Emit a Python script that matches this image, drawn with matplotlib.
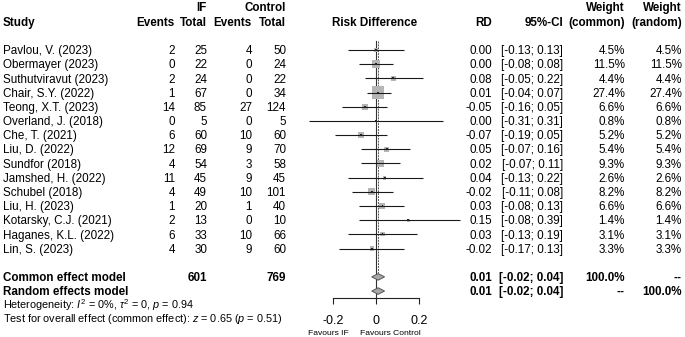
import numpy as np
import matplotlib
matplotlib.use("Agg")
import matplotlib.pyplot as plt
from matplotlib.patches import Polygon

plt.rcParams['font.family'] = ['Liberation Sans', 'DejaVu Sans']
plt.rcParams['mathtext.fontset'] = 'custom'
plt.rcParams['mathtext.rm'] = 'Liberation Sans'
plt.rcParams['mathtext.it'] = 'Liberation Sans:italic'
plt.rcParams['mathtext.bf'] = 'Liberation Sans:bold'

studies = ["Pavlou, V. (2023)", "Obermayer (2023)", "Suthutviravut (2023)", "Chair, S.Y. (2022)",
           "Teong, X.T. (2023)", "Overland, J. (2018)", "Che, T. (2021)", "Liu, D. (2022)",
           "Sundfor (2018)", "Jamshed, H. (2022)", "Schubel (2018)", "Liu, H. (2023)",
           "Kotarsky, C.J. (2021)", "Haganes, K.L. (2022)", "Lin, S. (2023)"]
ev_if = [2, 0, 2, 1, 14, 0, 6, 12, 4, 11, 4, 1, 2, 6, 4]
n_if = [25, 22, 24, 67, 85, 5, 60, 69, 54, 45, 49, 20, 13, 33, 30]
ev_ctrl = [4, 0, 0, 0, 27, 0, 10, 9, 3, 9, 10, 1, 0, 10, 9]
n_ctrl = [50, 24, 22, 34, 124, 5, 60, 70, 58, 45, 101, 40, 10, 66, 60]
rd = [0.00, 0.00, 0.08, 0.01, -0.05, 0.00, -0.07, 0.05, 0.02, 0.04, -0.02, 0.03, 0.15, 0.03, -0.02]
ci_lo = [-0.13, -0.08, -0.05, -0.04, -0.16, -0.31, -0.19, -0.07, -0.07, -0.13, -0.11, -0.08, -0.08, -0.13, -0.17]
ci_hi = [0.13, 0.08, 0.22, 0.07, 0.05, 0.31, 0.05, 0.16, 0.11, 0.22, 0.08, 0.13, 0.39, 0.19, 0.13]
w_common = [4.5, 11.5, 4.4, 27.4, 6.6, 0.8, 5.2, 5.4, 9.3, 2.6, 8.2, 6.6, 1.4, 3.1, 3.3]
w_random = [4.5, 11.5, 4.4, 27.4, 6.6, 0.8, 5.2, 5.4, 9.3, 2.6, 8.2, 6.6, 1.4, 3.1, 3.3]

summary_labels = ["Common effect model", "Random effects model"]
summary_rd = [0.01, 0.01]
summary_lo = [-0.02, -0.02]
summary_hi = [0.04, 0.04]
summary_wc = ["100.0%", "--"]
summary_wr = ["--", "100.0%"]
total_if = 601
total_ctrl = 769

xticks = [-0.2, 0, 0.2]
xticklabels = ["-0.2", "0", "0.2"]

W, H = 685, 337
fig = plt.figure(figsize=(W / 100, H / 100), dpi=100)

# layout (pixels)
y0, dy = 50.0, 14.18
x_zero, px_unit = 376.0, 215.0
FS = 8.4

tx = fig.add_axes([0, 0, 1, 1])
tx.set_xlim(0, W)
tx.set_ylim(H, 0)
tx.axis('off')


def row_y(i):
    return y0 + dy * i


def put(x, y, s, ha='right', bold=False, size=FS):
    tx.text(x, y + size * 0.716 * 100 / 72 / 2.0, s, ha=ha, va='baseline', fontsize=size,
            fontweight='bold' if bold else 'normal', color='black')


# headers
put(207, 7, "IF", bold=True)
put(286, 7, "Control", bold=True)
put(625, 7, "Weight", bold=True)
put(682, 7, "Weight", bold=True)
put(3, 22, "Study", ha='left', bold=True)
put(175, 22, "Events", bold=True)
put(207, 22, "Total", bold=True)
put(252, 22, "Events", bold=True)
put(286, 22, "Total", bold=True)
put(375, 22, "Risk Difference", ha='center', bold=True)
put(492, 22, "RD", bold=True)
put(563, 22, "95%-CI", bold=True)
put(625, 22, "(common)", bold=True)
put(682, 22, "(random)", bold=True)

for i, s in enumerate(studies):
    y = row_y(i)
    put(3, y, s, ha='left')
    put(175, y, str(ev_if[i]))
    put(207, y, str(n_if[i]))
    put(252, y, str(ev_ctrl[i]))
    put(286, y, str(n_ctrl[i]))
    put(492, y, f"{rd[i]:.2f}")
    put(563, y, f"[{ci_lo[i]:.2f}; {ci_hi[i]:.2f}]")
    put(625, y, f"{w_common[i]:.1f}%")
    put(682, y, f"{w_random[i]:.1f}%")

n = len(studies)
sum_rows = [n + 1, n + 2]
for k, r in enumerate(sum_rows):
    y = row_y(r)
    put(3, y, summary_labels[k], ha='left', bold=True)
    put(492, y, f"{summary_rd[k]:.2f}", bold=True)
    put(563, y, f"[{summary_lo[k]:.2f}; {summary_hi[k]:.2f}]", bold=True)
    put(625, y, summary_wc[k], bold=True)
    put(682, y, summary_wr[k], bold=True)
put(207, row_y(sum_rows[0]), str(total_if), bold=True)
put(286, row_y(sum_rows[0]), str(total_ctrl), bold=True)

SF = 7.85
put(3, 305, r"Heterogeneity: $I^2$ = 0%, $\tau^2$ = 0, $p$ = 0.94", ha='left', size=SF)
put(3, 318, r"Test for overall effect (common effect): $z$ = 0.65 ($p$ = 0.51)", ha='left', size=SF)

put(349, 332, "Favours IF", ha='right', size=6.1)
put(360, 332, "Favours Control", ha='left', size=6.1)

# forest axes
ax_left, ax_right = 300, 470
ax = fig.add_axes([ax_left / W, 0, (ax_right - ax_left) / W, 1])
ax.set_xlim((ax_left - x_zero) / px_unit, (ax_right - x_zero) / px_unit)
ax.set_ylim((H - y0) / dy, -y0 / dy)
ax.patch.set_alpha(0)
for sp in ['top', 'left', 'right']:
    ax.spines[sp].set_visible(False)
ax.yaxis.set_visible(False)
axis_row = (298 - y0) / dy
ax.spines['bottom'].set_position(('data', axis_row))
ax.spines['bottom'].set_bounds(xticks[0], xticks[-1])
ax.spines['bottom'].set_linewidth(0.8)
ax.spines['bottom'].set_color('#222222')
ax.set_xticks(xticks)
ax.set_xticklabels(xticklabels, fontsize=9)
ax.tick_params(axis='x', direction='out', length=4.4, width=0.8, color='#222222', pad=7.5)

rows = np.arange(n)
# reference lines
ax.plot([0, 0], [-0.65, axis_row], color='#333333', lw=0.8, zorder=1)
ax.plot([summary_rd[0], summary_rd[0]], [-0.65, sum_rows[0] - 0.3], color='#555555', lw=0.7,
        ls=(0, (2, 1)), zorder=1)

# squares
side_px = 12.3 * np.sqrt(np.array(w_common) / max(w_common))
ax.scatter(rd, rows, marker='s', s=(side_px * 0.72) ** 2, color='#b5b5b5', edgecolors='none', zorder=2)
ax.hlines(rows, ci_lo, ci_hi, color='#1a1a1a', lw=0.8, zorder=3)
ax.scatter(rd, rows, marker='s', s=(1.8 * 0.72) ** 2, color='#222222', edgecolors='none', zorder=4)

# diamonds
hh = 0.23
for k, r in enumerate(sum_rows):
    poly = Polygon([(summary_lo[k], r), (summary_rd[k], r - hh), (summary_hi[k], r), (summary_rd[k], r + hh)],
                   closed=True, facecolor='#a8a8a8', edgecolor='#555555', lw=0.7, zorder=3)
    ax.add_patch(poly)

fig.savefig("out.png", dpi=100)
